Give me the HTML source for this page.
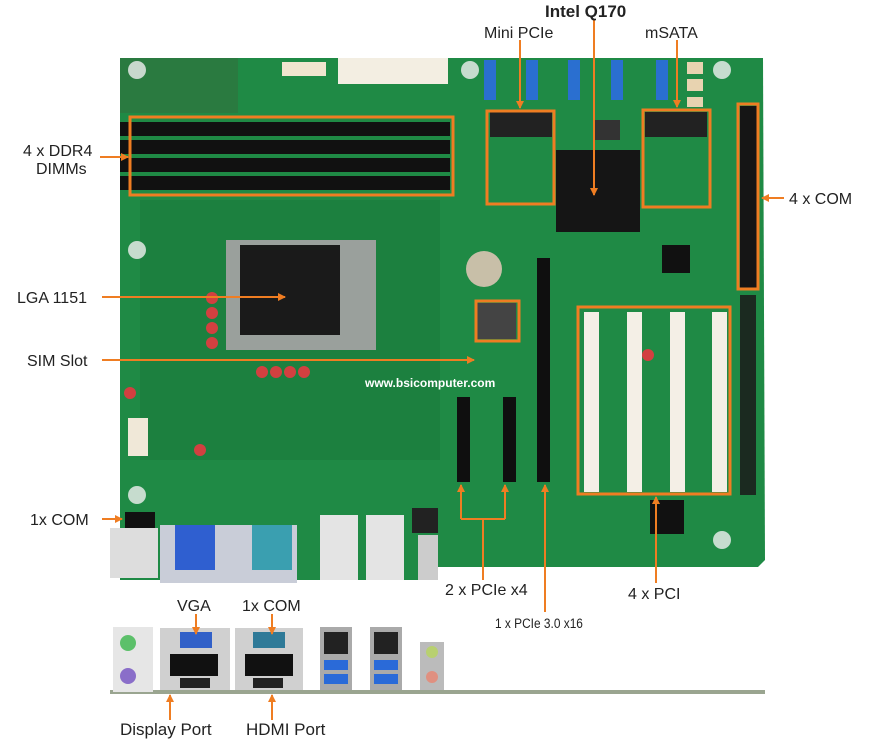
<!DOCTYPE html><html><head><style>body{margin:0;background:#fff}svg{display:block}text{font-family:"Liberation Sans",sans-serif;fill:#222}</style></head><body>
<svg width="875" height="744" viewBox="0 0 875 744" xmlns="http://www.w3.org/2000/svg">
<defs><marker id="a" markerWidth="8" markerHeight="8" refX="7" refY="4" orient="auto" markerUnits="userSpaceOnUse"><path d="M0,0 L8,4 L0,8z" fill="#ef7d22"/></marker></defs>
<!-- board -->
<path d="M120,58 L763,58 L765,560 L758,567 L120,567 Z" fill="#1f8a45"/>
<rect x="120" y="58" width="118" height="55" fill="#2a7a40"/>
<rect x="140" y="200" width="300" height="260" fill="#1a7a3c" opacity=".6"/>
<g fill="#f0f0f0" opacity=".8"><circle cx="137" cy="70" r="9"/><circle cx="137" cy="250" r="9"/><circle cx="137" cy="495" r="9"/><circle cx="470" cy="70" r="9"/><circle cx="722" cy="70" r="9"/><circle cx="722" cy="540" r="9"/></g>
<g fill="#d24040"><circle cx="212" cy="298" r="6"/><circle cx="212" cy="313" r="6"/><circle cx="212" cy="328" r="6"/><circle cx="212" cy="343" r="6"/><circle cx="262" cy="372" r="6"/><circle cx="276" cy="372" r="6"/><circle cx="290" cy="372" r="6"/><circle cx="304" cy="372" r="6"/><circle cx="130" cy="393" r="6"/><circle cx="200" cy="450" r="6"/><circle cx="648" cy="355" r="6"/><circle cx="748" cy="360" r="6"/><circle cx="748" cy="400" r="6"/><circle cx="748" cy="440" r="6"/></g>
<!-- top connectors -->
<rect x="282" y="62" width="44" height="14" fill="#f1e5cf"/>
<rect x="338" y="58" width="110" height="26" fill="#f3eee2"/>
<g fill="#2a6fd0"><rect x="484" y="60" width="12" height="40"/><rect x="526" y="60" width="12" height="40"/><rect x="568" y="60" width="12" height="40"/><rect x="611" y="60" width="12" height="40"/><rect x="656" y="60" width="12" height="40"/></g>
<g fill="#e8d3b0"><rect x="687" y="62" width="16" height="12"/><rect x="687" y="79" width="16" height="12"/><rect x="687" y="97" width="16" height="10"/></g>
<!-- DIMMs -->
<g fill="#111"><rect x="120" y="122" width="330" height="14"/><rect x="120" y="140" width="330" height="14"/><rect x="120" y="158" width="330" height="14"/><rect x="120" y="176" width="330" height="14"/></g>
<rect x="490" y="112" width="62" height="25" fill="#222"/>
<rect x="645" y="112" width="62" height="25" fill="#222"/>
<rect x="556" y="150" width="84" height="82" fill="#151515"/>
<rect x="740" y="106" width="18" height="182" fill="#151515"/>
<rect x="740" y="295" width="16" height="200" fill="#1b2a20"/>
<rect x="226" y="240" width="150" height="110" fill="#9aa09c"/>
<rect x="240" y="245" width="100" height="90" fill="#1a1a1a"/>
<circle cx="484" cy="269" r="18" fill="#c8bfa8"/>
<rect x="476" y="303" width="40" height="36" fill="#444"/>
<rect x="128" y="418" width="20" height="38" fill="#f0e8d8"/>
<g fill="#0f0f0f"><rect x="457" y="397" width="13" height="85"/><rect x="503" y="397" width="13" height="85"/><rect x="537" y="258" width="13" height="224"/></g>
<g fill="#f4efe6"><rect x="584" y="312" width="15" height="180"/><rect x="627" y="312" width="15" height="180"/><rect x="670" y="312" width="15" height="180"/><rect x="712" y="312" width="15" height="180"/></g>
<rect x="650" y="500" width="34" height="34" fill="#111"/>
<rect x="595" y="120" width="25" height="20" fill="#333"/>
<rect x="662" y="245" width="28" height="28" fill="#111"/>
<text x="365" y="387" font-size="12" font-weight="bold" style="fill:#fff">www.bsicomputer.com</text>
<!-- bottom board io -->
<rect x="120" y="560" width="300" height="20" fill="#1f8a45"/>
<rect x="125" y="512" width="30" height="16" fill="#111"/>
<rect x="110" y="528" width="48" height="50" fill="#ddd"/>
<rect x="160" y="525" width="75" height="58" fill="#c9cdd8"/><rect x="175" y="525" width="40" height="45" fill="#2f5fd0"/>
<rect x="232" y="525" width="65" height="58" fill="#c9cdd8"/><rect x="252" y="525" width="40" height="45" fill="#3a9fb0"/>
<rect x="320" y="515" width="38" height="65" fill="#e4e4e4"/><rect x="366" y="515" width="38" height="65" fill="#e4e4e4"/>
<rect x="412" y="508" width="26" height="25" fill="#222"/><rect x="418" y="535" width="20" height="45" fill="#ccc"/>
<!-- rear io -->
<rect x="110" y="690" width="655" height="4" fill="#9aa590"/>
<rect x="113" y="627" width="40" height="65" fill="#e6e6e6"/><circle cx="128" cy="643" r="8" fill="#5cc06a"/><circle cx="128" cy="676" r="8" fill="#8a6ec9"/>
<rect x="160" y="628" width="70" height="62" fill="#d0d0d0"/><rect x="180" y="632" width="32" height="16" fill="#3160c8"/><rect x="170" y="654" width="48" height="22" fill="#111"/><rect x="180" y="678" width="30" height="10" fill="#222"/>
<rect x="235" y="628" width="68" height="62" fill="#d0d0d0"/><rect x="253" y="632" width="32" height="16" fill="#2f7a98"/><rect x="245" y="654" width="48" height="22" fill="#111"/><rect x="253" y="678" width="30" height="10" fill="#222"/>
<rect x="320" y="627" width="32" height="63" fill="#aaa"/><rect x="324" y="632" width="24" height="22" fill="#222"/><rect x="324" y="660" width="24" height="10" fill="#2a6ad8"/><rect x="324" y="674" width="24" height="10" fill="#2a6ad8"/>
<rect x="370" y="627" width="32" height="63" fill="#aaa"/><rect x="374" y="632" width="24" height="22" fill="#222"/><rect x="374" y="660" width="24" height="10" fill="#2a6ad8"/><rect x="374" y="674" width="24" height="10" fill="#2a6ad8"/>
<rect x="420" y="642" width="24" height="48" fill="#bbb"/><circle cx="432" cy="652" r="6" fill="#b8d070"/><circle cx="432" cy="677" r="6" fill="#e09080"/>
<!-- orange boxes -->
<g fill="none" stroke="#ef7d22" stroke-width="3">
<rect x="130" y="117" width="323" height="78"/><rect x="487" y="111" width="67" height="93"/><rect x="643" y="110" width="67" height="97"/><rect x="738" y="104" width="20" height="185"/><rect x="476" y="301" width="43" height="40"/><rect x="578" y="307" width="152" height="187"/>
</g>
<g stroke="#ef7d22" stroke-width="2" fill="none">
<line x1="483" y1="580" x2="483" y2="519"/><line x1="461" y1="519" x2="505" y2="519"/>
</g>
<g stroke="#ef7d22" stroke-width="2" fill="none" marker-end="url(#a)">
<line x1="520" y1="40" x2="520" y2="108"/><line x1="594" y1="20" x2="594" y2="195"/><line x1="677" y1="40" x2="677" y2="107"/>
<line x1="100" y1="157" x2="128" y2="157"/><line x1="784" y1="198" x2="762" y2="198"/>
<line x1="102" y1="297" x2="285" y2="297"/><line x1="102" y1="360" x2="474" y2="360"/>
<line x1="102" y1="519" x2="122" y2="519"/>
<line x1="461" y1="519" x2="461" y2="485"/><line x1="505" y1="519" x2="505" y2="485"/>
<line x1="545" y1="612" x2="545" y2="485"/><line x1="656" y1="583" x2="656" y2="497"/>
<line x1="196" y1="614" x2="196" y2="634"/><line x1="272" y1="614" x2="272" y2="634"/>
<line x1="170" y1="720" x2="170" y2="695"/><line x1="272" y1="720" x2="272" y2="695"/>
</g>
<text x="545" y="17" font-size="17" font-weight="bold">Intel Q170</text>
<text x="484" y="38" font-size="16">Mini PCIe</text>
<text x="645" y="38" font-size="16">mSATA</text>
<text x="23" y="156" font-size="16">4 x DDR4</text><text x="36" y="174" font-size="16">DIMMs</text>
<text x="789" y="204" font-size="16">4 x COM</text>
<text x="17" y="303" font-size="16">LGA 1151</text>
<text x="27" y="366" font-size="16">SIM Slot</text>
<text x="30" y="525" font-size="16">1x COM</text>
<text x="445" y="595" font-size="16">2 x PCIe x4</text>
<text x="628" y="599" font-size="16">4 x PCI</text>
<text x="495" y="628" font-size="14" transform="translate(495 0) scale(0.85 1) translate(-495 0)">1 x PCIe 3.0 x16</text>
<text x="177" y="611" font-size="16">VGA</text>
<text x="242" y="611" font-size="16">1x COM</text>
<text x="120" y="735" font-size="17">Display Port</text>
<text x="246" y="735" font-size="17">HDMI Port</text>
</svg></body></html>
